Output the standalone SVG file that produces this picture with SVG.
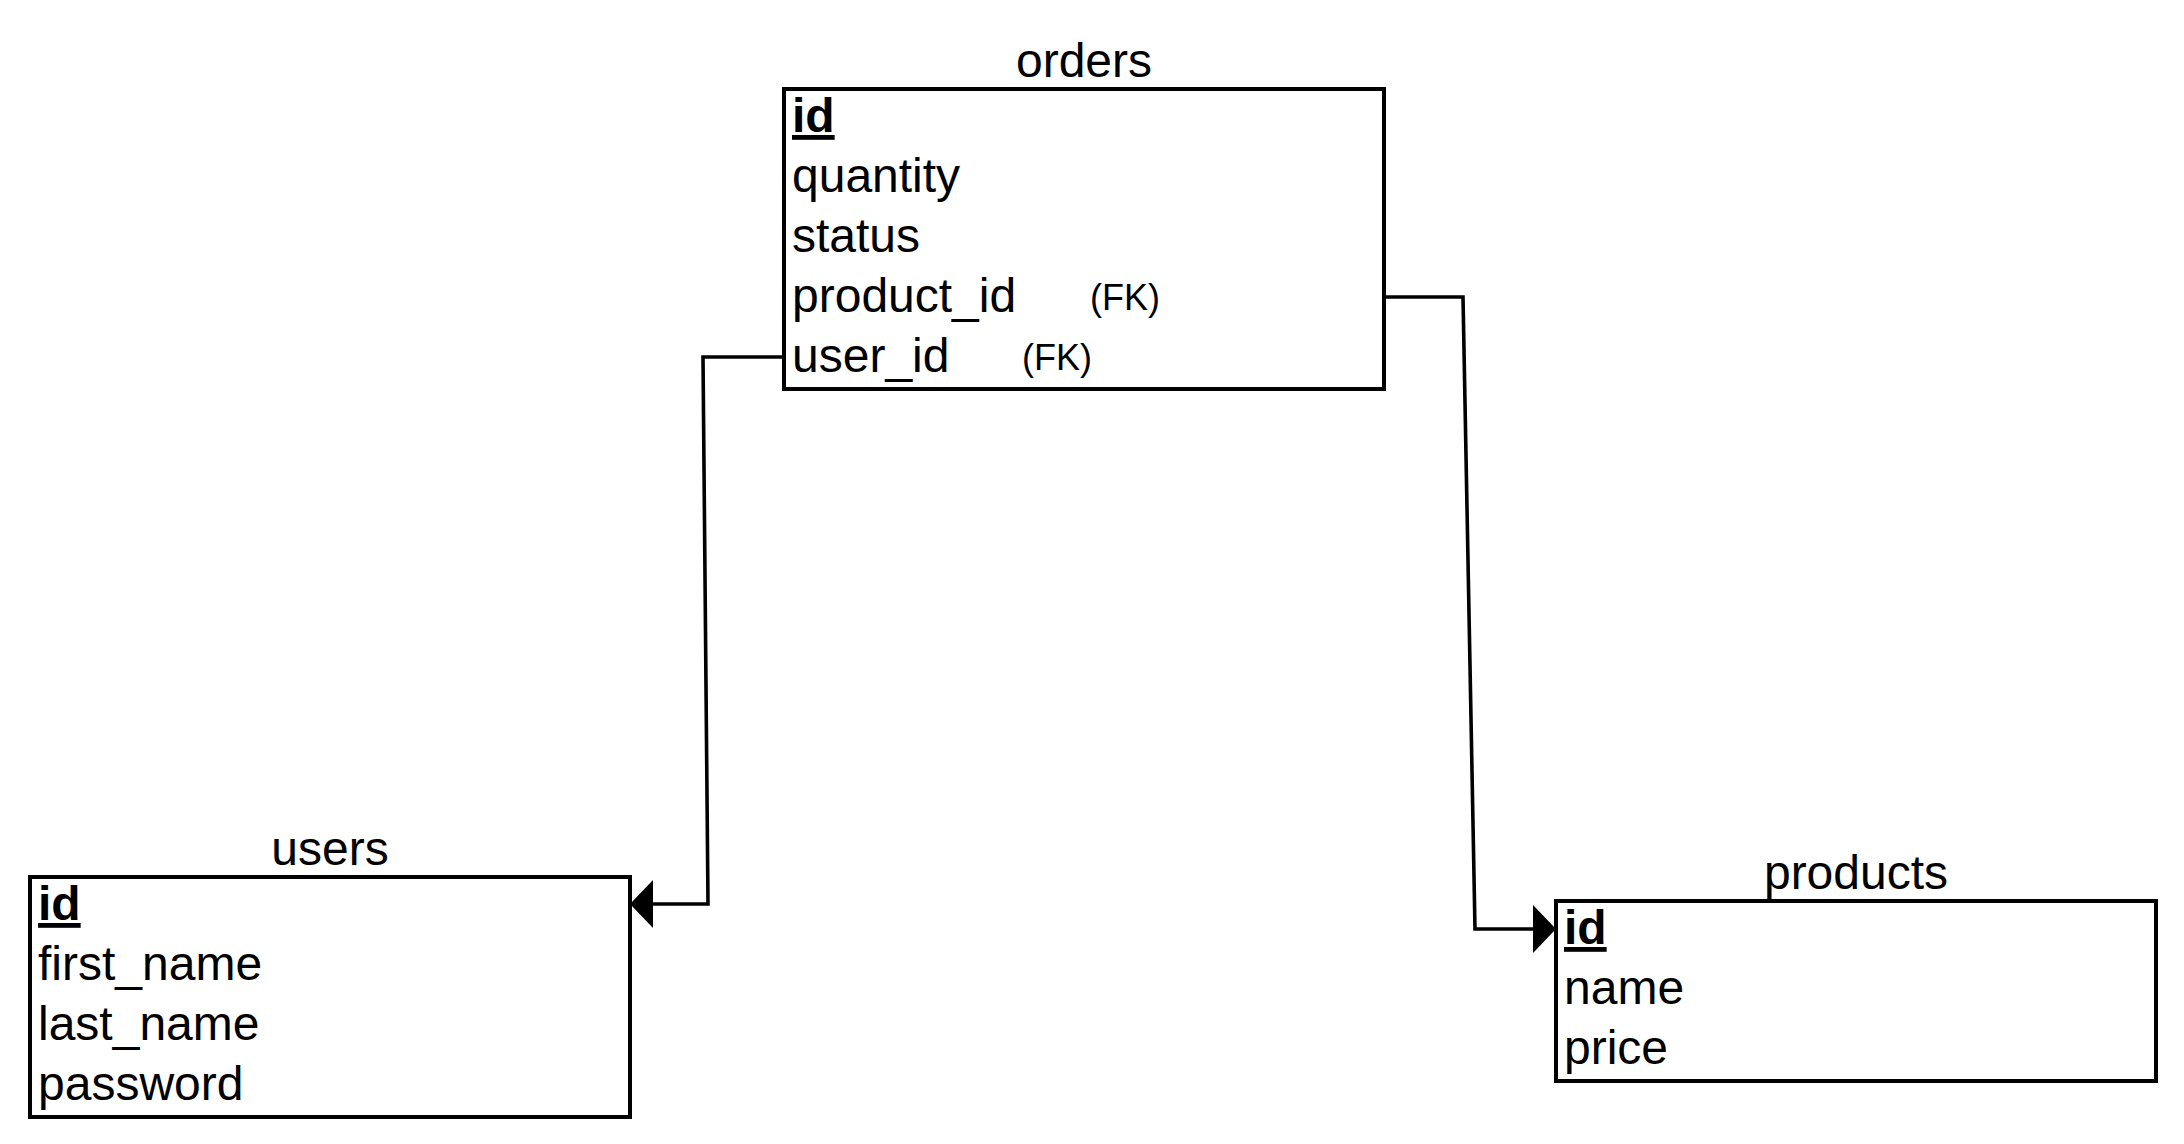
<svg xmlns="http://www.w3.org/2000/svg" width="2184" height="1144" viewBox="0 0 2184 1144">
  <style>
    text { font-family: "Liberation Sans", Arial, sans-serif; fill: #000; }
    .title { font-size: 48px; text-anchor: middle; }
    .field { font-size: 48px; }
    .pk { font-size: 48px; font-weight: bold; text-decoration: underline; }
    .fk { font-size: 36px; }
    .box { fill: #fff; stroke: #000; stroke-width: 4; }
    .conn { fill: none; stroke: #000; stroke-width: 3.6; }
  </style>
  <defs>
    <marker id="block" viewBox="0 0 23 48" refX="0" refY="24" markerWidth="23" markerHeight="48" markerUnits="userSpaceOnUse" orient="auto">
      <path d="M0,0 L23,24 L0,48 Z" fill="#000"/>
    </marker>
  </defs>
  <rect width="2184" height="1144" fill="#fff"/>

  <g id="orders">
    <text class="title" x="1084" y="77">orders</text>
    <rect class="box" x="784" y="89" width="600" height="300"/>
    <text class="pk" x="792" y="132">id</text>
    <text class="field" x="792" y="192">quantity</text>
    <text class="field" x="792" y="252">status</text>
    <text class="field" x="792" y="312">product_id</text>
    <text class="fk" x="1090" y="310">(FK)</text>
    <text class="field" x="792" y="372">user_id</text>
    <text class="fk" x="1022" y="370">(FK)</text>
  </g>

  <g id="users">
    <text class="title" x="330" y="865">users</text>
    <rect class="box" x="30" y="877" width="600" height="240"/>
    <text class="pk" x="38" y="920">id</text>
    <text class="field" x="38" y="980">first_name</text>
    <text class="field" x="38" y="1040">last_name</text>
    <text class="field" x="38" y="1100">password</text>
  </g>

  <g id="products">
    <text class="title" x="1856" y="889">products</text>
    <rect class="box" x="1556" y="901" width="600" height="180"/>
    <text class="pk" x="1564" y="944">id</text>
    <text class="field" x="1564" y="1004">name</text>
    <text class="field" x="1564" y="1064">price</text>
  </g>

  <g id="connectors">
    <path class="conn" d="M784,357 L703,357 L708,904 L653,904" marker-end="url(#block)"/>
    <path class="conn" d="M1385,297 L1463,297 L1475,929 L1533,929" marker-end="url(#block)"/>
  </g>
</svg>
